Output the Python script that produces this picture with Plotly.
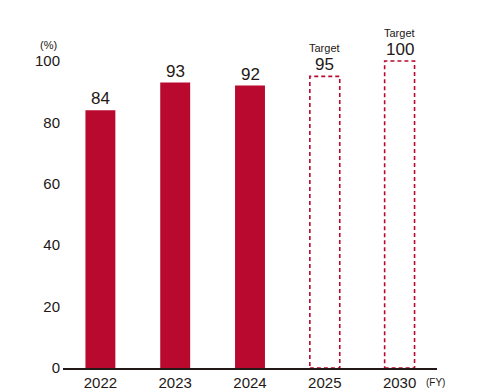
import plotly.graph_objects as go

categories = ["2022", "2023", "2024", "2025", "2030"]
values = [84, 93, 92, 95, 100]
is_target = [False, False, False, True, True]
y_ticks = [0, 20, 40, 60, 80, 100]

RED = "#B9092F"
TXT = "#231815"
FONT = "Liberation Sans, Arial, sans-serif"
BW = 0.4
Y_MAX = 101  # small headroom so the dashed top edge at 100 is not clipped

xs = list(range(len(categories)))
fig = go.Figure()

actual_x = [x for x, t in zip(xs, is_target) if not t]
actual_v = [v for v, t in zip(values, is_target) if not t]
fig.add_trace(go.Bar(x=actual_x, y=actual_v, width=BW, marker=dict(color=RED, line=dict(width=0)),
                     showlegend=False, hoverinfo="skip"))

for x, v, t in zip(xs, values, is_target):
    if t:
        fig.add_shape(type="rect", xref="x", yref="y", x0=x - BW / 2, x1=x + BW / 2, y0=0, y1=v,
                      line=dict(color=RED, width=1.6, dash="4px,3px"), fillcolor="rgba(0,0,0,0)", layer="above")
        fig.add_annotation(x=x, y=v, xref="x", yref="y", text="Target", showarrow=False,
                           yanchor="bottom", yshift=20, font=dict(size=11, color=TXT, family=FONT))
    fig.add_annotation(x=x, y=v, xref="x", yref="y", text=str(v), showarrow=False,
                       yanchor="bottom", yshift=0, font=dict(size=17, color=TXT, family=FONT))

fig.add_annotation(x=0, y=100, xref="paper", yref="y", text="(%)", showarrow=False,
                   xanchor="right", yanchor="bottom", xshift=-4, yshift=8.5,
                   font=dict(size=11, color=TXT, family=FONT))
fig.add_annotation(x=1, y=0, xref="paper", yref="paper", text="(FY)", showarrow=False,
                   xanchor="left", yanchor="top", xshift=-13.5, yshift=-7,
                   font=dict(size=10, color=TXT, family=FONT))

PX_PER_UNIT = 3.07
fig.update_layout(
    width=500, height=392,
    margin=dict(l=54.5, r=70.5, t=53 - (Y_MAX - 100) * PX_PER_UNIT, b=32),
    paper_bgcolor="white", plot_bgcolor="white",
    font=dict(family=FONT, color=TXT),
    xaxis=dict(range=[-0.5, len(categories) - 0.5], tickvals=xs, ticktext=categories,
               showgrid=False, zeroline=False, showline=True, linecolor="#231815", linewidth=1.5,
               ticks="", tickfont=dict(size=15, color=TXT), automargin=False),
    yaxis=dict(range=[0, Y_MAX], tickvals=y_ticks, showgrid=False, zeroline=False, showline=False,
               ticks="", tickfont=dict(size=15, color=TXT), ticklabelstandoff=2, automargin=False),
)

fig.write_html("out.html")
